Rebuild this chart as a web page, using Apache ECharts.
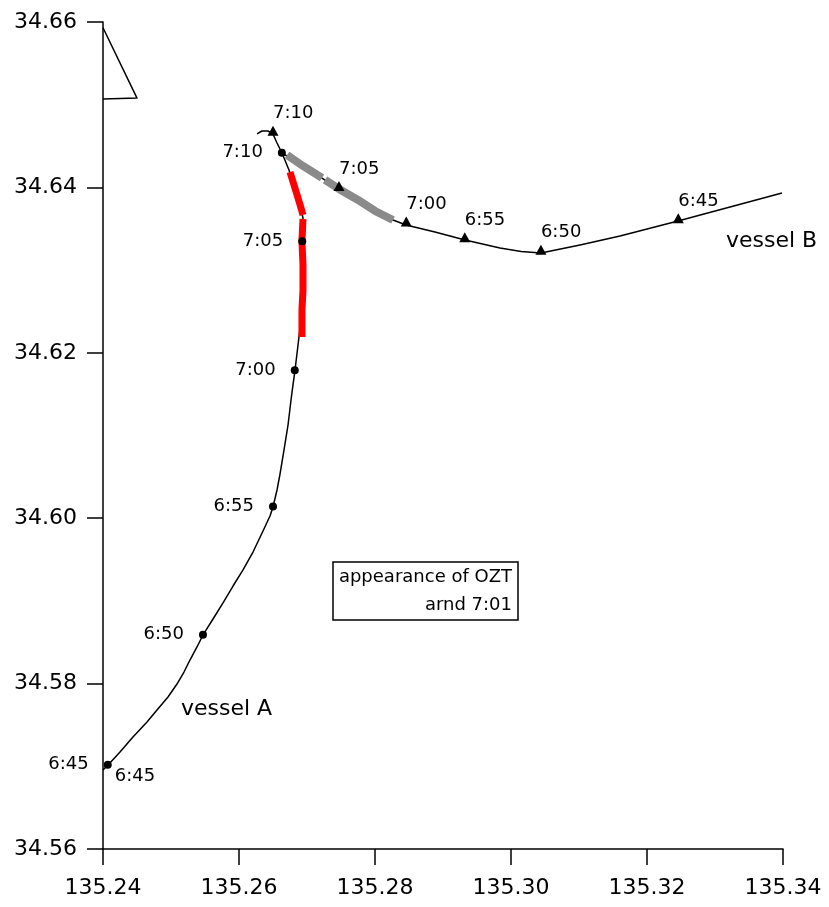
<!DOCTYPE html>
<html>
<head>
<meta charset="utf-8">
<script src="https://cdn.jsdelivr.net/npm/echarts@6/dist/echarts.min.js"></script>
<style>
  html, body { margin: 0; padding: 0; background: #fff; }
  #chart { width: 829px; height: 907px; }
</style>
</head>
<body>
<div id="chart"></div>
<script>
// Tracks of two vessels (longitude, latitude) with 5-minute fixes
const FONT = '"DejaVu Sans", Verdana, sans-serif';

const lonRange = [135.24, 135.34];
const latRange = [34.56, 34.66];
const gridStep = 0.02;

const fixTimes = ['6:45', '6:50', '6:55', '7:00', '7:05', '7:10'];

// vessel A fixes (circles)
const fixA = [
  [135.2407, 34.5702], [135.2547, 34.5859], [135.2650, 34.6014],
  [135.2682, 34.6179], [135.2693, 34.6335], [135.2663, 34.6442]
];

// vessel B fixes (triangles)
const fixB = [
  [135.3246, 34.6359], [135.3044, 34.6321], [135.2932, 34.6336],
  [135.2846, 34.6355], [135.2747, 34.6398], [135.2650, 34.6465]
];

const trackA = [
  [135.24000, 34.56955], [135.24074, 34.57016], [135.24250, 34.57173], [135.24441, 34.57354],
  [135.24647, 34.57536], [135.24794, 34.57681], [135.24956, 34.57838], [135.25088, 34.57995],
  [135.25191, 34.58140], [135.25279, 34.58285], [135.25382, 34.58443], [135.25471, 34.58588],
  [135.25618, 34.58781], [135.25765, 34.58975], [135.25912, 34.59180], [135.26059, 34.59374],
  [135.26206, 34.59591], [135.26353, 34.59845], [135.26456, 34.60027], [135.26500, 34.60135],
  [135.26559, 34.60341], [135.26603, 34.60534], [135.26662, 34.60825], [135.26721, 34.61127],
  [135.26765, 34.61429], [135.26794, 34.61611], [135.26824, 34.61792], [135.26868, 34.62094],
  [135.26912, 34.62397], [135.26941, 34.62699], [135.26941, 34.63001], [135.26926, 34.63352],
  [135.26941, 34.63630], [135.26897, 34.63787], [135.26824, 34.63993], [135.26735, 34.64210],
  [135.26632, 34.64416]
];

const trackB = [
  [135.33985, 34.63932], [135.33221, 34.63763], [135.32456, 34.63594], [135.31603, 34.63412],
  [135.31015, 34.63304], [135.30441, 34.63207], [135.30150, 34.63225], [135.29838, 34.63268],
  [135.29324, 34.63364], [135.28882, 34.63461], [135.28456, 34.63545], [135.28265, 34.63606],
  [135.28000, 34.63715], [135.27750, 34.63848], [135.27471, 34.63981], [135.27191, 34.64126],
  [135.26941, 34.64247], [135.26750, 34.64356], [135.26632, 34.64416], [135.26559, 34.64537],
  [135.26500, 34.64646], [135.26426, 34.64682], [135.26338, 34.64682], [135.26265, 34.64646]
];

// highlighted stretches of each track
const redSegs = [
  [[135.26750, 34.64186], [135.26809, 34.64029], [135.26868, 34.63872], [135.26912, 34.63751], [135.26941, 34.63666]],
  [[135.26941, 34.63618], [135.26926, 34.63352], [135.26941, 34.63062], [135.26941, 34.62759], [135.26926, 34.62518], [135.26926, 34.62191]]
];
const graySegs = [
  [[135.26706, 34.64392], [135.26941, 34.64259], [135.27221, 34.64114]],
  [[135.27265, 34.64090], [135.27471, 34.63981], [135.27750, 34.63848], [135.28000, 34.63715], [135.28265, 34.63606]]
];

// north arrow outline
const northArrow = [[135.2400, 34.6593], [135.2450, 34.6508], [135.2400, 34.6507]];

const chart = echarts.init(document.getElementById('chart'), null, { renderer: 'canvas' });

const lineSeries = (data, color, width, z) => ({
  type: 'line', data, showSymbol: false, symbol: 'none', clip: false, silent: true,
  lineStyle: { color, width, cap: 'butt', join: 'round' }, z
});

const axisCommon = {
  type: 'value',
  interval: gridStep,
  splitLine: { show: false },
  axisLine: { show: true, onZero: false, lineStyle: { color: '#000', width: 1.5 } },
  axisTick: { show: true, length: 16, lineStyle: { color: '#000', width: 1.5 } },
  axisLabel: { color: '#000', fontSize: 22, fontFamily: FONT, formatter: v => v.toFixed(2) }
};

const timeLabel = { show: true, formatter: '{b}', color: '#000', fontSize: 18, fontFamily: FONT };

const series = [
  lineSeries(trackA, '#000', 1.5, 2),
  lineSeries(trackB, '#000', 1.5, 2),
  ...redSegs.map(s => lineSeries(s, '#ff0000', 7, 3)),
  ...graySegs.map(s => lineSeries(s, '#8a8a8a', 8, 3)),
  lineSeries(northArrow, '#000', 1.5, 2),
  {
    type: 'scatter', symbol: 'circle', symbolSize: 8, z: 5,
    itemStyle: { color: '#000', opacity: 1 },
    data: fixA.map((v, i) => ({ value: v, name: fixTimes[i] })),
    label: Object.assign({}, timeLabel, { position: 'left', distance: 15 })
  },
  {
    type: 'scatter', symbolSize: 0, z: 5, silent: true,
    itemStyle: { opacity: 1 },
    data: [{ value: fixA[0], name: fixTimes[0] }],
    label: Object.assign({}, timeLabel, { position: 'right', distance: 7, offset: [0, 12] })
  },
  {
    type: 'scatter', symbol: 'triangle', symbolSize: [11, 10], symbolOffset: [0, -3], z: 5,
    itemStyle: { color: '#000', opacity: 1 },
    data: fixB.map((v, i) => ({ value: v, name: fixTimes[i] })),
    label: Object.assign({}, timeLabel, { position: 'top', align: 'left', distance: 3 })
  }
];

chart.setOption({
  backgroundColor: '#fff',
  animation: false,
  grid: { left: 103, top: 22, right: 46, bottom: 58, containLabel: false },
  xAxis: Object.assign({}, axisCommon, {
    min: lonRange[0], max: lonRange[1],
    axisLabel: Object.assign({}, axisCommon.axisLabel, { margin: 28 })
  }),
  yAxis: Object.assign({}, axisCommon, {
    min: latRange[0], max: latRange[1],
    axisLabel: Object.assign({}, axisCommon.axisLabel, { margin: 26 })
  }),
  series,
  graphic: [
    { type: 'text', left: 181, top: 698, style: { text: 'vessel A', font: '22px ' + FONT, fill: '#000' } },
    { type: 'text', left: 726, top: 230, style: { text: 'vessel B', font: '22px ' + FONT, fill: '#000' } },
    { type: 'rect', shape: { x: 333, y: 562, width: 185, height: 58 },
      style: { fill: 'none', stroke: '#000', lineWidth: 1.5 } },
    { type: 'text', x: 512, y: 577, style: { text: 'appearance of OZT', font: '18px ' + FONT, fill: '#000', align: 'right', verticalAlign: 'middle' } },
    { type: 'text', x: 512, y: 605, style: { text: 'arnd 7:01', font: '18px ' + FONT, fill: '#000', align: 'right', verticalAlign: 'middle' } }
  ]
});
</script>
</body>
</html>
